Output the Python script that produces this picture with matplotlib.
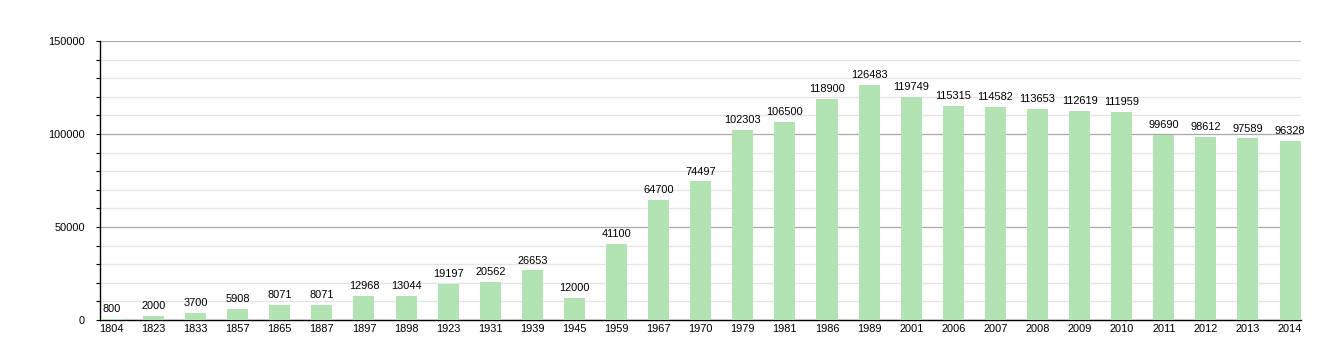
import matplotlib
matplotlib.use("Agg")
import matplotlib.pyplot as plt
from matplotlib.ticker import MultipleLocator

years = ["1804", "1823", "1833", "1857", "1865", "1887", "1897", "1898", "1923", "1931",
         "1939", "1945", "1959", "1967", "1970", "1979", "1981", "1986", "1989", "2001",
         "2006", "2007", "2008", "2009", "2010", "2011", "2012", "2013", "2014"]
population = [800, 2000, 3700, 5908, 8071, 8071, 12968, 13044, 19197, 20562,
              26653, 12000, 41100, 64700, 74497, 102303, 106500, 118900, 126483, 119749,
              115315, 114582, 113653, 112619, 111959, 99690, 98612, 97589, 96328]

plt.rcParams['font.family'] = ['Liberation Sans', 'DejaVu Sans']

W, H = 1340, 360
fig = plt.figure(figsize=(W / 100, H / 100), dpi=100)
ax = fig.add_axes([100 / W, 1 - 320 / H, 1201 / W, 279 / H])

x = list(range(len(years)))
ax.bar(x, population, width=0.5, color="#b3e3b3", zorder=3)

for xi, v in zip(x, population):
    ax.annotate(str(v), (xi, v), xytext=(0, 3.5), textcoords="offset points",
                ha="center", va="bottom", fontsize=7.9, color="black", zorder=4)

ax.set_xlim(-0.27, 28.26)
ax.set_ylim(0, 150000)
ax.set_xticks(x)
ax.set_xticklabels(years, fontsize=7.9)
ax.tick_params(axis="x", length=0, pad=3)
ax.yaxis.set_major_locator(MultipleLocator(50000))
ax.yaxis.set_minor_locator(MultipleLocator(10000))
ax.tick_params(axis="y", which="both", direction="out", length=3, width=0.8, labelsize=7.9, pad=8)
ax.grid(axis="y", which="major", color="#a8a8a8", linewidth=0.9, zorder=1)
ax.grid(axis="y", which="minor", color="#e4e4e4", linewidth=0.9, zorder=1)
ax.set_axisbelow(True)
for s in ("top", "right"):
    ax.spines[s].set_visible(False)
for s in ("left", "bottom"):
    ax.spines[s].set_color("black")
    ax.spines[s].set_linewidth(1.0)

fig.savefig("out.png", dpi=100)
